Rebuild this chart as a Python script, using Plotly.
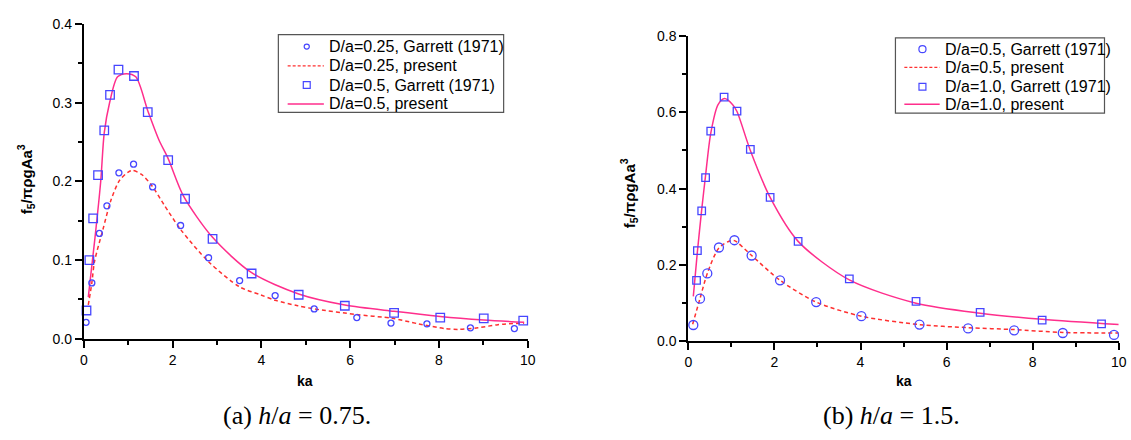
import plotly.graph_objects as go

# ---------------- data: panel (a) h/a = 0.75 ----------------
ka_a_g025 = [0.05, 0.18, 0.35, 0.52, 0.79, 1.12, 1.55, 2.18, 2.81, 3.51, 4.31, 5.19, 6.15, 6.92, 7.73, 8.71, 9.70]
f5_a_g025 = [0.021, 0.071, 0.134, 0.169, 0.211, 0.222, 0.193, 0.144, 0.103, 0.074, 0.055, 0.038, 0.027, 0.020, 0.019, 0.014, 0.013]

ka_a_g05 = [0.06, 0.125, 0.21, 0.32, 0.46, 0.59, 0.78, 1.13, 1.44, 1.90, 2.28, 2.90, 3.78, 4.84, 5.88, 6.99, 8.03, 9.01, 9.90]
f5_a_g05 = [0.036, 0.100, 0.153, 0.208, 0.265, 0.310, 0.342, 0.334, 0.288, 0.227, 0.178, 0.127, 0.083, 0.056, 0.042, 0.033, 0.027, 0.026, 0.023]

ka_a_p025 = [0.10, 0.18, 0.24, 0.43, 0.61, 0.80, 1.00, 1.10, 1.30, 1.54, 1.80, 2.18, 2.81, 3.51, 3.98, 4.31, 4.82, 5.19,
             6.13, 6.95, 7.54, 8.13, 8.44, 8.88, 9.33, 9.92]
f5_a_p025 = [0.043, 0.071, 0.098, 0.139, 0.176, 0.201, 0.212, 0.214, 0.209, 0.194, 0.171, 0.139, 0.098, 0.066, 0.056, 0.049,
             0.042, 0.038, 0.031, 0.026, 0.019, 0.013, 0.012, 0.014, 0.018, 0.020]

ka_a_p05 = [0.10, 0.25, 0.38, 0.46, 0.58, 0.76, 0.96, 1.17, 1.44, 1.69, 1.90, 2.24, 2.90, 3.78, 4.84, 5.88, 6.99, 8.03, 9.01, 9.92]
f5_a_p05 = [0.053, 0.128, 0.200, 0.262, 0.300, 0.333, 0.337, 0.333, 0.290, 0.253, 0.229, 0.182, 0.129, 0.084, 0.057, 0.043,
            0.035, 0.0285, 0.024, 0.021]

# ---------------- data: panel (b) h/a = 1.5 ----------------
ka_b_g05 = [0.115, 0.27, 0.44, 0.71, 1.07, 1.47, 2.13, 2.97, 4.02, 5.37, 6.50, 7.57, 8.70, 9.89]
f5_b_g05 = [0.043, 0.112, 0.178, 0.246, 0.265, 0.225, 0.160, 0.103, 0.066, 0.044, 0.034, 0.029, 0.022, 0.017]

ka_b_g10 = [0.19, 0.21, 0.31, 0.40, 0.52, 0.83, 1.13, 1.44, 1.90, 2.55, 3.74, 5.29, 6.78, 8.22, 9.60]
f5_b_g10 = [0.160, 0.238, 0.342, 0.429, 0.551, 0.640, 0.603, 0.503, 0.377, 0.262, 0.164, 0.105, 0.076, 0.056, 0.046]

ka_b_p05 = [0.10, 0.27, 0.44, 0.71, 0.96, 1.07, 1.47, 2.13, 2.97, 4.02, 5.37, 6.50, 7.57, 8.70, 10.0]
f5_b_p05 = [0.045, 0.112, 0.178, 0.245, 0.263, 0.264, 0.225, 0.160, 0.103, 0.066, 0.044, 0.036, 0.031, 0.0235, 0.022]

ka_b_p10 = [0.115, 0.21, 0.31, 0.40, 0.52, 0.69, 0.84, 1.03, 1.13, 1.44, 1.90, 2.55, 3.74, 5.29, 6.78, 8.22, 10.0]
f5_b_p10 = [0.118, 0.235, 0.345, 0.435, 0.545, 0.620, 0.636, 0.620, 0.602, 0.500, 0.377, 0.262, 0.161, 0.100, 0.074, 0.058, 0.044]

legend_a = ["D/a=0.25, Garrett (1971)", "D/a=0.25, present", "D/a=0.5, Garrett (1971)", "D/a=0.5, present"]
legend_b = ["D/a=0.5, Garrett (1971)", "D/a=0.5, present", "D/a=1.0, Garrett (1971)", "D/a=1.0, present"]

# ---------------- styling ----------------
W, H = 1131, 440
BLUE = "#4646FF"
RED = "#FF3030"
PINK = "#FF2E8C"
SANS = "Liberation Sans, Arial, sans-serif"
SERIF = "Liberation Serif, Times New Roman, serif"


def px(x):
    return x / W


def py(y):
    return 1 - y / H


fig = go.Figure()


def markers(x, y, symbol, size, xa, ya):
    fig.add_trace(go.Scatter(
        x=x, y=y, mode="markers", xaxis=xa, yaxis=ya, showlegend=False, cliponaxis=False,
        marker=dict(symbol=symbol, size=size, color=BLUE, line=dict(color=BLUE, width=1.3)),
    ))


def curve(x, y, color, dash, xa, ya):
    fig.add_trace(go.Scatter(
        x=x, y=y, mode="lines", xaxis=xa, yaxis=ya, showlegend=False, cliponaxis=False,
        line=dict(color=color, width=1.5, dash=dash, shape="spline", smoothing=0.8),
    ))


# panel (a)
curve(ka_a_p025, f5_a_p025, RED, "4px,3px", "x", "y")
curve(ka_a_p05, f5_a_p05, PINK, "solid", "x", "y")
markers(ka_a_g025, f5_a_g025, "circle-open", 6, "x", "y")
markers(ka_a_g05, f5_a_g05, "square-open", 8.5, "x", "y")

# panel (b)
curve(ka_b_p05, f5_b_p05, RED, "4px,3px", "x2", "y2")
curve(ka_b_p10, f5_b_p10, PINK, "solid", "x2", "y2")
markers(ka_b_g05, f5_b_g05, "circle-open", 9, "x2", "y2")
markers(ka_b_g10, f5_b_g10, "square-open", 7.5, "x2", "y2")


def xaxis_cfg(left, right):
    return dict(
        domain=[px(left), px(right)], range=[0, 10], showline=True, linecolor="black", linewidth=2,
        ticks="outside", ticklen=7, tickwidth=2, tickcolor="black", dtick=2, tick0=0,
        minor=dict(ticks="outside", ticklen=4, tickwidth=2, tickcolor="black", dtick=1),
        showgrid=False, zeroline=False, tickfont=dict(family=SANS, size=14, color="black"),
    )


def yaxis_cfg(bottom, top, ymax, step, anchor):
    return dict(
        domain=[py(bottom), py(top)], range=[0, ymax], showline=True, linecolor="black", linewidth=2,
        ticks="outside", ticklen=7, tickwidth=2, tickcolor="black", dtick=step, tick0=0,
        minor=dict(ticks="outside", ticklen=4, tickwidth=2, tickcolor="black", dtick=step / 2),
        showgrid=False, zeroline=False, tickformat=".1f", anchor=anchor,
        tickfont=dict(family=SANS, size=14, color="black"),
    )


fig.update_layout(
    width=W, height=H, autosize=False, margin=dict(l=0, r=0, t=0, b=0),
    paper_bgcolor="white", plot_bgcolor="white", showlegend=False,
    xaxis=dict(**xaxis_cfg(80.7, 529.3), anchor="y"),
    yaxis=yaxis_cfg(343.3, 16.7, 0.4, 0.1, "x"),
    xaxis2=dict(**xaxis_cfg(691.7, 1126.7), anchor="y2"),
    yaxis2=yaxis_cfg(346, 29, 0.8, 0.2, "x2"),
)

shapes = []
annotations = []


def text(x, y, s, size, family=SANS, angle=0, anchor="center"):
    annotations.append(dict(
        x=px(x), y=py(y), xref="paper", yref="paper", text=s, showarrow=False,
        xanchor=anchor, yanchor="middle", textangle=angle,
        font=dict(family=family, size=size, color="black"),
    ))


def legend_box(box, rows, sym_x, line_x, text_x, labels, r_circ, r_sq):
    x0, y0, x1, y1 = box
    shapes.append(dict(type="rect", xref="paper", yref="paper", x0=px(x0), x1=px(x1), y0=py(y1), y1=py(y0),
                       line=dict(color="#555555", width=1.2), fillcolor="rgba(0,0,0,0)"))
    # open circle
    cy = rows[0]
    shapes.append(dict(type="circle", xref="paper", yref="paper",
                       x0=px(sym_x - r_circ), x1=px(sym_x + r_circ), y0=py(cy + r_circ), y1=py(cy - r_circ),
                       line=dict(color=BLUE, width=1.2), fillcolor="rgba(0,0,0,0)"))
    # dashed line
    shapes.append(dict(type="line", xref="paper", yref="paper", x0=px(line_x[0]), x1=px(line_x[1]),
                       y0=py(rows[1]), y1=py(rows[1]), line=dict(color=RED, width=1.2, dash="3px,2px")))
    # open square
    cy = rows[2]
    shapes.append(dict(type="rect", xref="paper", yref="paper",
                       x0=px(sym_x - r_sq), x1=px(sym_x + r_sq), y0=py(cy + r_sq), y1=py(cy - r_sq),
                       line=dict(color=BLUE, width=1.2), fillcolor="rgba(0,0,0,0)"))
    # solid line
    shapes.append(dict(type="line", xref="paper", yref="paper", x0=px(line_x[0]), x1=px(line_x[1]),
                       y0=py(rows[3]), y1=py(rows[3]), line=dict(color=PINK, width=1.5)))
    for yy, lab in zip(rows, labels):
        text(text_x, yy, lab, 16, anchor="left")


legend_box((277.3, 27.7, 505, 108.3), [40, 60, 80, 99.5], 306, (286.7, 323.3), 326.5, legend_a, 2.6, 3.5)
legend_box((901, 31, 1112.3, 109), [42.7, 61.7, 81.7, 100], 928.3, (910, 945.7), 949, legend_b, 3.6, 3.5)

# axis titles
ytitle = "<b>f<sub>5</sub>/πρgAa<sup>3</sup></b>"
text(22, 178, ytitle, 15, angle=-90)
text(631, 192, ytitle, 15, angle=-90)
text(304, 387, "<b>ka</b>", 14)
text(909.7, 387, "<b>ka</b>", 14)

# panel captions
text(296, 423, "(a) <i>h</i>/<i>a</i> = 0.75.", 26, family=SERIF)
text(897.5, 423, "(b) <i>h</i>/<i>a</i> = 1.5.", 26, family=SERIF)

fig.update_layout(shapes=shapes, annotations=annotations)

fig.write_html("out.html")
